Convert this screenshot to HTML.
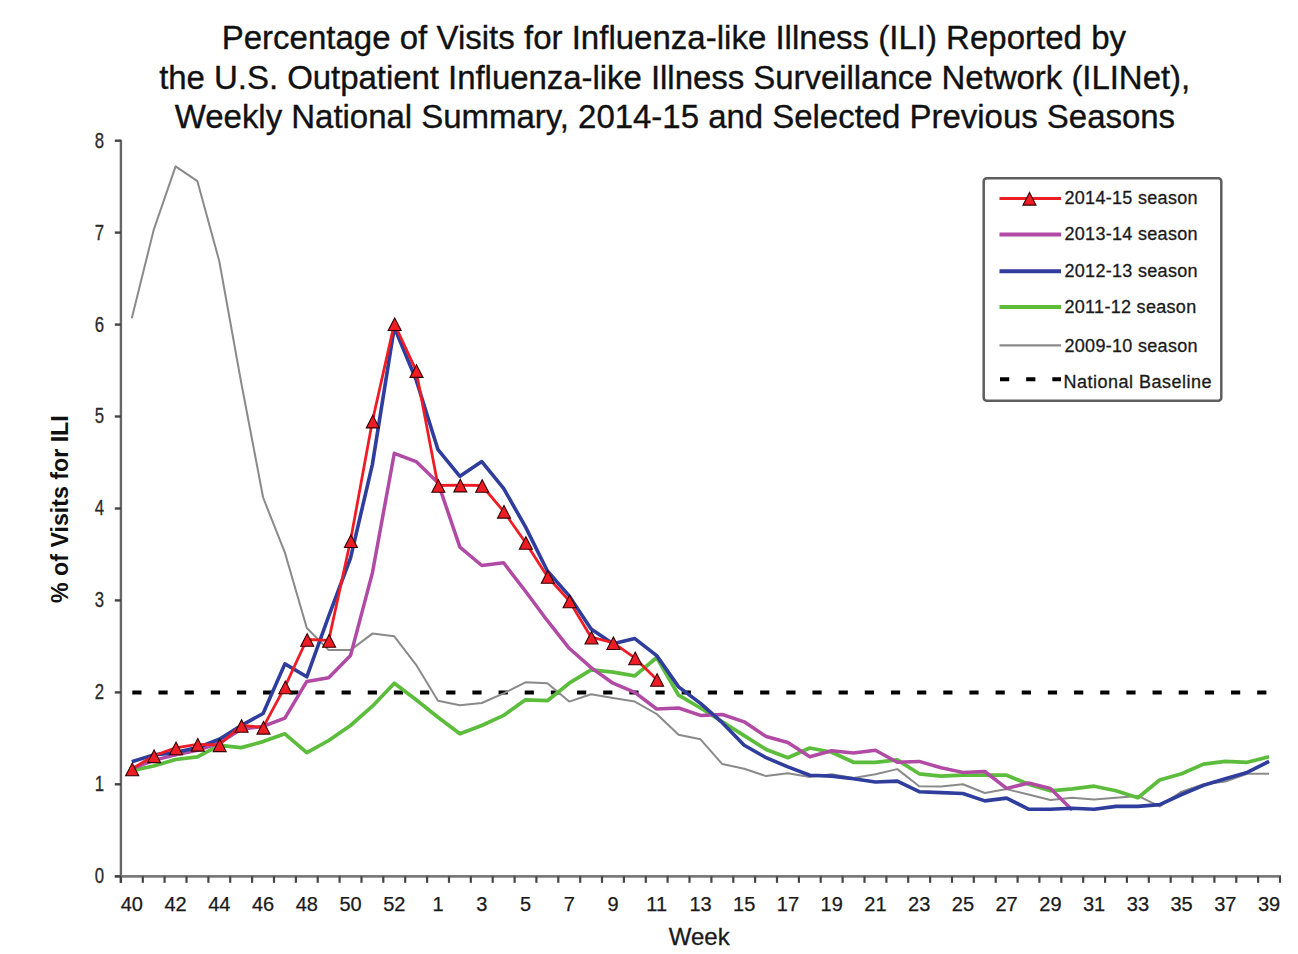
<!DOCTYPE html>
<html><head><meta charset="utf-8"><style>
html,body{margin:0;padding:0;background:#fff;width:1298px;height:954px;overflow:hidden;}
svg{display:block;font-family:"Liberation Sans", sans-serif;}
</style></head><body>
<svg width="1298" height="954" viewBox="0 0 1298 954" font-family='"Liberation Sans", sans-serif'><text x="221.7" y="49.0" font-size="33" fill="#111" stroke="#111" stroke-width="0.35" textLength="904.3" lengthAdjust="spacing">Percentage of Visits for Influenza-like Illness (ILI) Reported by</text>
<text x="159.2" y="88.7" font-size="33" fill="#111" stroke="#111" stroke-width="0.35" textLength="1031.0" lengthAdjust="spacing">the U.S. Outpatient Influenza-like Illness Surveillance Network (ILINet),</text>
<text x="174.7" y="127.9" font-size="33" fill="#111" stroke="#111" stroke-width="0.35" textLength="1000.4" lengthAdjust="spacing">Weekly National Summary, 2014-15 and Selected Previous Seasons</text>
<line x1="132.3" y1="692.4" x2="1281" y2="692.4" stroke="#000" stroke-width="4" stroke-dasharray="9.2 16.96"/>
<polyline points="131.8,318.2 153.7,229.9 175.6,166.4 197.4,181.2 219.3,261.2 241.2,382.5 263.1,497.5 284.9,552.6 306.8,628.0 328.7,650.1 350.5,650.1 372.4,633.6 394.3,636.3 416.1,664.8 438.0,700.7 459.9,705.3 481.8,703.0 503.6,693.3 525.5,682.3 547.4,683.2 569.2,701.6 591.1,694.2 613.0,697.9 634.8,701.6 656.7,714.0 678.6,734.7 700.5,739.3 722.3,764.1 744.2,768.7 766.1,776.1 787.9,773.3 809.8,777.0 831.7,774.2 853.5,777.9 875.4,774.2 897.3,769.1 919.2,786.2 941.0,786.4 962.9,784.3 984.8,793.0 1006.6,789.1 1028.5,794.5 1050.4,800.0 1072.2,797.7 1094.1,799.5 1116.0,797.7 1137.9,795.9 1159.7,806.4 1181.6,791.7 1203.5,784.3 1225.3,781.6 1247.2,773.8 1269.1,773.8" fill="none" stroke="#8a8a8a" stroke-width="2.0" stroke-linejoin="round"/>
<polyline points="131.8,770.6 153.7,766.0 175.6,759.5 197.4,756.8 219.3,745.3 241.2,747.6 263.1,741.6 284.9,733.8 306.8,752.6 328.7,740.5 350.5,725.5 372.4,706.2 394.3,683.2 416.1,699.8 438.0,717.2 459.9,733.8 481.8,725.5 503.6,715.4 525.5,699.8 547.4,700.7 569.2,683.2 591.1,669.9 613.0,672.2 634.8,675.8 656.7,657.5 678.6,695.2 700.5,708.0 722.3,721.8 744.2,735.6 766.1,749.4 787.9,757.7 809.8,748.0 831.7,752.2 853.5,762.3 875.4,762.3 897.3,759.9 919.2,773.8 941.0,776.1 962.9,775.2 984.8,775.2 1006.6,775.2 1028.5,784.3 1050.4,790.8 1072.2,788.9 1094.1,786.2 1116.0,790.8 1137.9,797.7 1159.7,780.0 1181.6,773.8 1203.5,764.1 1225.3,761.4 1247.2,762.3 1269.1,756.8" fill="none" stroke="#5cbc3c" stroke-width="3.7" stroke-linejoin="round"/>
<polyline points="131.8,768.7 153.7,760.4 175.6,754.9 197.4,750.3 219.3,743.0 241.2,729.2 263.1,726.4 284.9,718.1 306.8,681.4 328.7,677.7 350.5,655.6 372.4,572.9 394.3,453.3 416.1,461.6 438.0,482.8 459.9,547.1 481.8,565.5 503.6,562.8 525.5,591.3 547.4,620.7 569.2,648.3 591.1,667.6 613.0,683.2 634.8,692.4 656.7,709.0 678.6,708.0 700.5,715.4 722.3,714.5 744.2,721.8 766.1,736.5 787.9,742.5 809.8,756.8 831.7,750.8 853.5,753.1 875.4,750.3 897.3,762.3 919.2,761.4 941.0,767.8 962.9,772.4 984.8,771.5 1006.6,788.4 1028.5,783.0 1050.4,788.4 1072.2,810.1" fill="none" stroke="#b04aa4" stroke-width="3.5" stroke-linejoin="round"/>
<polyline points="131.8,761.8 153.7,754.9 175.6,752.6 197.4,747.6 219.3,739.3 241.2,725.5 263.1,713.5 284.9,663.9 306.8,676.8 328.7,616.1 350.5,558.2 372.4,464.4 394.3,327.4 416.1,379.8 438.0,449.7 459.9,476.3 481.8,461.6 503.6,488.3 525.5,526.9 547.4,571.0 569.2,595.9 591.1,629.0 613.0,643.7 634.8,638.6 656.7,655.6 678.6,686.9 700.5,703.4 722.3,722.7 744.2,745.3 766.1,757.7 787.9,766.9 809.8,775.2 831.7,776.1 853.5,778.8 875.4,782.0 897.3,781.1 919.2,791.7 941.0,792.6 962.9,793.5 984.8,800.9 1006.6,798.1 1028.5,809.2 1050.4,809.2 1072.2,808.3 1094.1,809.2 1116.0,806.4 1137.9,806.4 1159.7,804.6 1181.6,794.5 1203.5,785.3 1225.3,778.8 1247.2,772.4 1269.1,761.4" fill="none" stroke="#2f3d9c" stroke-width="3.6" stroke-linejoin="round"/>
<polyline points="131.8,768.9 153.7,755.8 175.6,747.9 197.4,744.3 219.3,744.8 241.2,725.5 263.1,727.3 284.9,686.9 306.8,639.5 328.7,640.4 350.5,540.7 372.4,421.1 394.3,323.7 416.1,370.6 438.0,485.5 459.9,485.1 481.8,485.5 503.6,511.3 525.5,542.5 547.4,576.5 569.2,600.9 591.1,637.2 613.0,642.7 634.8,657.9 656.7,679.5" fill="none" stroke="#ee1c24" stroke-width="2.8" stroke-linejoin="round"/>
<polygon points="132.2,763.1 138.7,775.7 125.7,775.7" fill="#ee1c24" stroke="#300" stroke-width="1.1" stroke-linejoin="miter"/>
<polygon points="154.1,750.0 160.6,762.6 147.6,762.6" fill="#ee1c24" stroke="#300" stroke-width="1.1" stroke-linejoin="miter"/>
<polygon points="176.0,742.1 182.5,754.7 169.5,754.7" fill="#ee1c24" stroke="#300" stroke-width="1.1" stroke-linejoin="miter"/>
<polygon points="197.8,738.5 204.3,751.1 191.3,751.1" fill="#ee1c24" stroke="#300" stroke-width="1.1" stroke-linejoin="miter"/>
<polygon points="219.7,739.0 226.2,751.6 213.2,751.6" fill="#ee1c24" stroke="#300" stroke-width="1.1" stroke-linejoin="miter"/>
<polygon points="241.6,719.7 248.1,732.3 235.1,732.3" fill="#ee1c24" stroke="#300" stroke-width="1.1" stroke-linejoin="miter"/>
<polygon points="263.5,721.5 270.0,734.1 257.0,734.1" fill="#ee1c24" stroke="#300" stroke-width="1.1" stroke-linejoin="miter"/>
<polygon points="285.3,681.1 291.8,693.7 278.8,693.7" fill="#ee1c24" stroke="#300" stroke-width="1.1" stroke-linejoin="miter"/>
<polygon points="307.2,633.7 313.7,646.3 300.7,646.3" fill="#ee1c24" stroke="#300" stroke-width="1.1" stroke-linejoin="miter"/>
<polygon points="329.1,634.6 335.6,647.2 322.6,647.2" fill="#ee1c24" stroke="#300" stroke-width="1.1" stroke-linejoin="miter"/>
<polygon points="350.9,534.9 357.4,547.5 344.4,547.5" fill="#ee1c24" stroke="#300" stroke-width="1.1" stroke-linejoin="miter"/>
<polygon points="372.8,415.3 379.3,427.9 366.3,427.9" fill="#ee1c24" stroke="#300" stroke-width="1.1" stroke-linejoin="miter"/>
<polygon points="394.7,317.9 401.2,330.5 388.2,330.5" fill="#ee1c24" stroke="#300" stroke-width="1.1" stroke-linejoin="miter"/>
<polygon points="416.5,364.8 423.0,377.4 410.0,377.4" fill="#ee1c24" stroke="#300" stroke-width="1.1" stroke-linejoin="miter"/>
<polygon points="438.4,479.7 444.9,492.3 431.9,492.3" fill="#ee1c24" stroke="#300" stroke-width="1.1" stroke-linejoin="miter"/>
<polygon points="460.3,479.3 466.8,491.9 453.8,491.9" fill="#ee1c24" stroke="#300" stroke-width="1.1" stroke-linejoin="miter"/>
<polygon points="482.2,479.7 488.7,492.3 475.7,492.3" fill="#ee1c24" stroke="#300" stroke-width="1.1" stroke-linejoin="miter"/>
<polygon points="504.0,505.5 510.5,518.1 497.5,518.1" fill="#ee1c24" stroke="#300" stroke-width="1.1" stroke-linejoin="miter"/>
<polygon points="525.9,536.7 532.4,549.3 519.4,549.3" fill="#ee1c24" stroke="#300" stroke-width="1.1" stroke-linejoin="miter"/>
<polygon points="547.8,570.7 554.3,583.3 541.3,583.3" fill="#ee1c24" stroke="#300" stroke-width="1.1" stroke-linejoin="miter"/>
<polygon points="569.6,595.1 576.1,607.7 563.1,607.7" fill="#ee1c24" stroke="#300" stroke-width="1.1" stroke-linejoin="miter"/>
<polygon points="591.5,631.4 598.0,644.0 585.0,644.0" fill="#ee1c24" stroke="#300" stroke-width="1.1" stroke-linejoin="miter"/>
<polygon points="613.4,636.9 619.9,649.5 606.9,649.5" fill="#ee1c24" stroke="#300" stroke-width="1.1" stroke-linejoin="miter"/>
<polygon points="635.2,652.1 641.7,664.7 628.7,664.7" fill="#ee1c24" stroke="#300" stroke-width="1.1" stroke-linejoin="miter"/>
<polygon points="657.1,673.7 663.6,686.3 650.6,686.3" fill="#ee1c24" stroke="#300" stroke-width="1.1" stroke-linejoin="miter"/>
<line x1="120.9" y1="139.8" x2="120.9" y2="883" stroke="#666" stroke-width="2.4"/>
<line x1="114.8" y1="876.3" x2="1281.0" y2="876.3" stroke="#7a7a7a" stroke-width="2.8"/>
<line x1="114.8" y1="876.3" x2="120.9" y2="876.3" stroke="#444" stroke-width="2.4"/>
<text transform="translate(99.4,883.2) scale(0.78,1)" x="0" y="0" text-anchor="middle" font-size="21.5" fill="#2a2a2a" stroke="#2a2a2a" stroke-width="0.3">0</text>
<line x1="114.8" y1="784.3" x2="120.9" y2="784.3" stroke="#444" stroke-width="2.4"/>
<text transform="translate(99.4,791.2) scale(0.78,1)" x="0" y="0" text-anchor="middle" font-size="21.5" fill="#2a2a2a" stroke="#2a2a2a" stroke-width="0.3">1</text>
<line x1="114.8" y1="692.4" x2="120.9" y2="692.4" stroke="#444" stroke-width="2.4"/>
<text transform="translate(99.4,699.3) scale(0.78,1)" x="0" y="0" text-anchor="middle" font-size="21.5" fill="#2a2a2a" stroke="#2a2a2a" stroke-width="0.3">2</text>
<line x1="114.8" y1="600.4" x2="120.9" y2="600.4" stroke="#444" stroke-width="2.4"/>
<text transform="translate(99.4,607.3) scale(0.78,1)" x="0" y="0" text-anchor="middle" font-size="21.5" fill="#2a2a2a" stroke="#2a2a2a" stroke-width="0.3">3</text>
<line x1="114.8" y1="508.5" x2="120.9" y2="508.5" stroke="#444" stroke-width="2.4"/>
<text transform="translate(99.4,515.4) scale(0.78,1)" x="0" y="0" text-anchor="middle" font-size="21.5" fill="#2a2a2a" stroke="#2a2a2a" stroke-width="0.3">4</text>
<line x1="114.8" y1="416.5" x2="120.9" y2="416.5" stroke="#444" stroke-width="2.4"/>
<text transform="translate(99.4,423.4) scale(0.78,1)" x="0" y="0" text-anchor="middle" font-size="21.5" fill="#2a2a2a" stroke="#2a2a2a" stroke-width="0.3">5</text>
<line x1="114.8" y1="324.6" x2="120.9" y2="324.6" stroke="#444" stroke-width="2.4"/>
<text transform="translate(99.4,331.5) scale(0.78,1)" x="0" y="0" text-anchor="middle" font-size="21.5" fill="#2a2a2a" stroke="#2a2a2a" stroke-width="0.3">6</text>
<line x1="114.8" y1="232.6" x2="120.9" y2="232.6" stroke="#444" stroke-width="2.4"/>
<text transform="translate(99.4,239.5) scale(0.78,1)" x="0" y="0" text-anchor="middle" font-size="21.5" fill="#2a2a2a" stroke="#2a2a2a" stroke-width="0.3">7</text>
<line x1="114.8" y1="140.7" x2="120.9" y2="140.7" stroke="#444" stroke-width="2.4"/>
<text transform="translate(99.4,147.6) scale(0.78,1)" x="0" y="0" text-anchor="middle" font-size="21.5" fill="#2a2a2a" stroke="#2a2a2a" stroke-width="0.3">8</text>
<line x1="120.9" y1="876.3" x2="120.9" y2="882.8" stroke="#444" stroke-width="2.2"/>
<line x1="142.8" y1="876.3" x2="142.8" y2="882.8" stroke="#444" stroke-width="2.2"/>
<line x1="164.6" y1="876.3" x2="164.6" y2="882.8" stroke="#444" stroke-width="2.2"/>
<line x1="186.5" y1="876.3" x2="186.5" y2="882.8" stroke="#444" stroke-width="2.2"/>
<line x1="208.4" y1="876.3" x2="208.4" y2="882.8" stroke="#444" stroke-width="2.2"/>
<line x1="230.2" y1="876.3" x2="230.2" y2="882.8" stroke="#444" stroke-width="2.2"/>
<line x1="252.1" y1="876.3" x2="252.1" y2="882.8" stroke="#444" stroke-width="2.2"/>
<line x1="274.0" y1="876.3" x2="274.0" y2="882.8" stroke="#444" stroke-width="2.2"/>
<line x1="295.9" y1="876.3" x2="295.9" y2="882.8" stroke="#444" stroke-width="2.2"/>
<line x1="317.7" y1="876.3" x2="317.7" y2="882.8" stroke="#444" stroke-width="2.2"/>
<line x1="339.6" y1="876.3" x2="339.6" y2="882.8" stroke="#444" stroke-width="2.2"/>
<line x1="361.5" y1="876.3" x2="361.5" y2="882.8" stroke="#444" stroke-width="2.2"/>
<line x1="383.3" y1="876.3" x2="383.3" y2="882.8" stroke="#444" stroke-width="2.2"/>
<line x1="405.2" y1="876.3" x2="405.2" y2="882.8" stroke="#444" stroke-width="2.2"/>
<line x1="427.1" y1="876.3" x2="427.1" y2="882.8" stroke="#444" stroke-width="2.2"/>
<line x1="449.0" y1="876.3" x2="449.0" y2="882.8" stroke="#444" stroke-width="2.2"/>
<line x1="470.8" y1="876.3" x2="470.8" y2="882.8" stroke="#444" stroke-width="2.2"/>
<line x1="492.7" y1="876.3" x2="492.7" y2="882.8" stroke="#444" stroke-width="2.2"/>
<line x1="514.6" y1="876.3" x2="514.6" y2="882.8" stroke="#444" stroke-width="2.2"/>
<line x1="536.4" y1="876.3" x2="536.4" y2="882.8" stroke="#444" stroke-width="2.2"/>
<line x1="558.3" y1="876.3" x2="558.3" y2="882.8" stroke="#444" stroke-width="2.2"/>
<line x1="580.2" y1="876.3" x2="580.2" y2="882.8" stroke="#444" stroke-width="2.2"/>
<line x1="602.0" y1="876.3" x2="602.0" y2="882.8" stroke="#444" stroke-width="2.2"/>
<line x1="623.9" y1="876.3" x2="623.9" y2="882.8" stroke="#444" stroke-width="2.2"/>
<line x1="645.8" y1="876.3" x2="645.8" y2="882.8" stroke="#444" stroke-width="2.2"/>
<line x1="667.6" y1="876.3" x2="667.6" y2="882.8" stroke="#444" stroke-width="2.2"/>
<line x1="689.5" y1="876.3" x2="689.5" y2="882.8" stroke="#444" stroke-width="2.2"/>
<line x1="711.4" y1="876.3" x2="711.4" y2="882.8" stroke="#444" stroke-width="2.2"/>
<line x1="733.3" y1="876.3" x2="733.3" y2="882.8" stroke="#444" stroke-width="2.2"/>
<line x1="755.1" y1="876.3" x2="755.1" y2="882.8" stroke="#444" stroke-width="2.2"/>
<line x1="777.0" y1="876.3" x2="777.0" y2="882.8" stroke="#444" stroke-width="2.2"/>
<line x1="798.9" y1="876.3" x2="798.9" y2="882.8" stroke="#444" stroke-width="2.2"/>
<line x1="820.7" y1="876.3" x2="820.7" y2="882.8" stroke="#444" stroke-width="2.2"/>
<line x1="842.6" y1="876.3" x2="842.6" y2="882.8" stroke="#444" stroke-width="2.2"/>
<line x1="864.5" y1="876.3" x2="864.5" y2="882.8" stroke="#444" stroke-width="2.2"/>
<line x1="886.4" y1="876.3" x2="886.4" y2="882.8" stroke="#444" stroke-width="2.2"/>
<line x1="908.2" y1="876.3" x2="908.2" y2="882.8" stroke="#444" stroke-width="2.2"/>
<line x1="930.1" y1="876.3" x2="930.1" y2="882.8" stroke="#444" stroke-width="2.2"/>
<line x1="952.0" y1="876.3" x2="952.0" y2="882.8" stroke="#444" stroke-width="2.2"/>
<line x1="973.8" y1="876.3" x2="973.8" y2="882.8" stroke="#444" stroke-width="2.2"/>
<line x1="995.7" y1="876.3" x2="995.7" y2="882.8" stroke="#444" stroke-width="2.2"/>
<line x1="1017.6" y1="876.3" x2="1017.6" y2="882.8" stroke="#444" stroke-width="2.2"/>
<line x1="1039.4" y1="876.3" x2="1039.4" y2="882.8" stroke="#444" stroke-width="2.2"/>
<line x1="1061.3" y1="876.3" x2="1061.3" y2="882.8" stroke="#444" stroke-width="2.2"/>
<line x1="1083.2" y1="876.3" x2="1083.2" y2="882.8" stroke="#444" stroke-width="2.2"/>
<line x1="1105.1" y1="876.3" x2="1105.1" y2="882.8" stroke="#444" stroke-width="2.2"/>
<line x1="1126.9" y1="876.3" x2="1126.9" y2="882.8" stroke="#444" stroke-width="2.2"/>
<line x1="1148.8" y1="876.3" x2="1148.8" y2="882.8" stroke="#444" stroke-width="2.2"/>
<line x1="1170.7" y1="876.3" x2="1170.7" y2="882.8" stroke="#444" stroke-width="2.2"/>
<line x1="1192.5" y1="876.3" x2="1192.5" y2="882.8" stroke="#444" stroke-width="2.2"/>
<line x1="1214.4" y1="876.3" x2="1214.4" y2="882.8" stroke="#444" stroke-width="2.2"/>
<line x1="1236.3" y1="876.3" x2="1236.3" y2="882.8" stroke="#444" stroke-width="2.2"/>
<line x1="1258.1" y1="876.3" x2="1258.1" y2="882.8" stroke="#444" stroke-width="2.2"/>
<line x1="1280.0" y1="876.3" x2="1280.0" y2="882.8" stroke="#444" stroke-width="2.2"/>
<text x="131.8" y="910.8" text-anchor="middle" font-size="20" fill="#1a1a1a" stroke="#1a1a1a" stroke-width="0.25">40</text>
<text x="175.6" y="910.8" text-anchor="middle" font-size="20" fill="#1a1a1a" stroke="#1a1a1a" stroke-width="0.25">42</text>
<text x="219.3" y="910.8" text-anchor="middle" font-size="20" fill="#1a1a1a" stroke="#1a1a1a" stroke-width="0.25">44</text>
<text x="263.1" y="910.8" text-anchor="middle" font-size="20" fill="#1a1a1a" stroke="#1a1a1a" stroke-width="0.25">46</text>
<text x="306.8" y="910.8" text-anchor="middle" font-size="20" fill="#1a1a1a" stroke="#1a1a1a" stroke-width="0.25">48</text>
<text x="350.5" y="910.8" text-anchor="middle" font-size="20" fill="#1a1a1a" stroke="#1a1a1a" stroke-width="0.25">50</text>
<text x="394.3" y="910.8" text-anchor="middle" font-size="20" fill="#1a1a1a" stroke="#1a1a1a" stroke-width="0.25">52</text>
<text x="438.0" y="910.8" text-anchor="middle" font-size="20" fill="#1a1a1a" stroke="#1a1a1a" stroke-width="0.25">1</text>
<text x="481.8" y="910.8" text-anchor="middle" font-size="20" fill="#1a1a1a" stroke="#1a1a1a" stroke-width="0.25">3</text>
<text x="525.5" y="910.8" text-anchor="middle" font-size="20" fill="#1a1a1a" stroke="#1a1a1a" stroke-width="0.25">5</text>
<text x="569.2" y="910.8" text-anchor="middle" font-size="20" fill="#1a1a1a" stroke="#1a1a1a" stroke-width="0.25">7</text>
<text x="613.0" y="910.8" text-anchor="middle" font-size="20" fill="#1a1a1a" stroke="#1a1a1a" stroke-width="0.25">9</text>
<text x="656.7" y="910.8" text-anchor="middle" font-size="20" fill="#1a1a1a" stroke="#1a1a1a" stroke-width="0.25">11</text>
<text x="700.5" y="910.8" text-anchor="middle" font-size="20" fill="#1a1a1a" stroke="#1a1a1a" stroke-width="0.25">13</text>
<text x="744.2" y="910.8" text-anchor="middle" font-size="20" fill="#1a1a1a" stroke="#1a1a1a" stroke-width="0.25">15</text>
<text x="787.9" y="910.8" text-anchor="middle" font-size="20" fill="#1a1a1a" stroke="#1a1a1a" stroke-width="0.25">17</text>
<text x="831.7" y="910.8" text-anchor="middle" font-size="20" fill="#1a1a1a" stroke="#1a1a1a" stroke-width="0.25">19</text>
<text x="875.4" y="910.8" text-anchor="middle" font-size="20" fill="#1a1a1a" stroke="#1a1a1a" stroke-width="0.25">21</text>
<text x="919.2" y="910.8" text-anchor="middle" font-size="20" fill="#1a1a1a" stroke="#1a1a1a" stroke-width="0.25">23</text>
<text x="962.9" y="910.8" text-anchor="middle" font-size="20" fill="#1a1a1a" stroke="#1a1a1a" stroke-width="0.25">25</text>
<text x="1006.6" y="910.8" text-anchor="middle" font-size="20" fill="#1a1a1a" stroke="#1a1a1a" stroke-width="0.25">27</text>
<text x="1050.4" y="910.8" text-anchor="middle" font-size="20" fill="#1a1a1a" stroke="#1a1a1a" stroke-width="0.25">29</text>
<text x="1094.1" y="910.8" text-anchor="middle" font-size="20" fill="#1a1a1a" stroke="#1a1a1a" stroke-width="0.25">31</text>
<text x="1137.9" y="910.8" text-anchor="middle" font-size="20" fill="#1a1a1a" stroke="#1a1a1a" stroke-width="0.25">33</text>
<text x="1181.6" y="910.8" text-anchor="middle" font-size="20" fill="#1a1a1a" stroke="#1a1a1a" stroke-width="0.25">35</text>
<text x="1225.3" y="910.8" text-anchor="middle" font-size="20" fill="#1a1a1a" stroke="#1a1a1a" stroke-width="0.25">37</text>
<text x="1269.1" y="910.8" text-anchor="middle" font-size="20" fill="#1a1a1a" stroke="#1a1a1a" stroke-width="0.25">39</text>
<text x="668.8" y="945.3" font-size="24" fill="#1a1a1a" stroke="#1a1a1a" stroke-width="0.3">Week</text>
<text transform="translate(67.6,509.1) rotate(-90)" text-anchor="middle" font-size="23.2" font-weight="bold" fill="#111">% of Visits for ILI</text>
<rect x="983.7" y="178.3" width="237.6" height="222.4" rx="3" fill="#fff" stroke="#5e5e5e" stroke-width="2.5"/>
<line x1="999.5" y1="198.5" x2="1061" y2="198.5" stroke="#ee1c24" stroke-width="3"/>
<text x="1064.5" y="204.4" font-size="18" letter-spacing="0.3" fill="#1a1a1a" stroke="#1a1a1a" stroke-width="0.3">2014-15 season</text>
<line x1="999.5" y1="234.4" x2="1061" y2="234.4" stroke="#b04aa4" stroke-width="4"/>
<text x="1064.5" y="240.2" font-size="18" letter-spacing="0.3" fill="#1a1a1a" stroke="#1a1a1a" stroke-width="0.3">2013-14 season</text>
<line x1="999.5" y1="271.2" x2="1061" y2="271.2" stroke="#2f3d9c" stroke-width="4"/>
<text x="1064.5" y="277.4" font-size="18" letter-spacing="0.3" fill="#1a1a1a" stroke="#1a1a1a" stroke-width="0.3">2012-13 season</text>
<line x1="999.5" y1="306.9" x2="1061" y2="306.9" stroke="#5cbc3c" stroke-width="4"/>
<text x="1064.5" y="312.9" font-size="18" letter-spacing="0.3" fill="#1a1a1a" stroke="#1a1a1a" stroke-width="0.3">2011-12 season</text>
<line x1="999.5" y1="345.3" x2="1061" y2="345.3" stroke="#8a8a8a" stroke-width="2.2"/>
<text x="1064.5" y="351.7" font-size="18" letter-spacing="0.3" fill="#1a1a1a" stroke="#1a1a1a" stroke-width="0.3">2009-10 season</text>
<polygon points="1029.5,192.5 1036.0,205.10000000000002 1023.0,205.10000000000002" fill="#ee1c24" stroke="#300" stroke-width="1.1"/>
<line x1="1000" y1="379.3" x2="1061" y2="379.3" stroke="#000" stroke-width="4" stroke-dasharray="9.2 16.96"/>
<text x="1063.5" y="388.1" font-size="18" letter-spacing="0.5" fill="#1a1a1a" stroke="#1a1a1a" stroke-width="0.3">National Baseline</text></svg>
</body></html>
